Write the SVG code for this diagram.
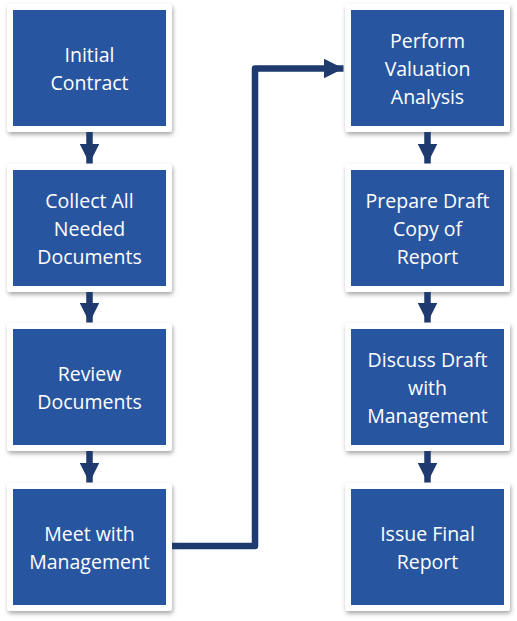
<svg xmlns="http://www.w3.org/2000/svg" width="517" height="621" viewBox="0 0 517 621">
<defs>
<filter id="sh" x="-10%" y="-10%" width="125%" height="125%">
<feDropShadow dx="1" dy="2.5" stdDeviation="2" flood-color="#000" flood-opacity="0.35"/>
</filter>
<marker id="ah" viewBox="0 0 10 10" refX="10" refY="5" markerWidth="3" markerHeight="3" markerUnits="strokeWidth" orient="auto">
<path d="M0,0 L10,5 L0,10 Z" fill="#1E3A6E"/>
</marker>
</defs>
<style>
.frame{fill:#fff;filter:url(#sh)}
.box{fill:#2855A0}
.t{font-family:"Open Sans","Liberation Sans",sans-serif;font-size:19.5px;fill:#fff;text-anchor:middle}
.c{stroke:#1E3A6E;stroke-width:6.5;fill:none;stroke-linejoin:round}
</style>
<rect width="517" height="621" fill="#fff"/>
<g id="n1"><rect class="frame" x="7" y="4" width="165" height="128" rx="3"/><rect class="box" x="13" y="10" width="153" height="116"/><text class="t" x="89.5" y="62">Initial</text><text class="t" x="89.5" y="90">Contract</text></g>
<g id="n2"><rect class="frame" x="7" y="164" width="165" height="128" rx="3"/><rect class="box" x="13" y="170" width="153" height="116"/><text class="t" x="89.5" y="208">Collect All</text><text class="t" x="89.5" y="236">Needed</text><text class="t" x="89.5" y="264">Documents</text></g>
<g id="n3"><rect class="frame" x="7" y="323" width="165" height="128" rx="3"/><rect class="box" x="13" y="329" width="153" height="116"/><text class="t" x="89.5" y="381">Review</text><text class="t" x="89.5" y="409">Documents</text></g>
<g id="n4"><rect class="frame" x="7" y="483" width="165" height="128" rx="3"/><rect class="box" x="13" y="489" width="153" height="116"/><text class="t" x="89.5" y="541">Meet with</text><text class="t" x="89.5" y="569">Management</text></g>
<g id="n5"><rect class="frame" x="345" y="4" width="165" height="128" rx="3"/><rect class="box" x="351" y="10" width="153" height="116"/><text class="t" x="427.5" y="48">Perform</text><text class="t" x="427.5" y="76">Valuation</text><text class="t" x="427.5" y="104">Analysis</text></g>
<g id="n6"><rect class="frame" x="345" y="164" width="165" height="128" rx="3"/><rect class="box" x="351" y="170" width="153" height="116"/><text class="t" x="427.5" y="208">Prepare Draft</text><text class="t" x="427.5" y="236">Copy of</text><text class="t" x="427.5" y="264">Report</text></g>
<g id="n7"><rect class="frame" x="345" y="323" width="165" height="128" rx="3"/><rect class="box" x="351" y="329" width="153" height="116"/><text class="t" x="427.5" y="367">Discuss Draft</text><text class="t" x="427.5" y="395">with</text><text class="t" x="427.5" y="423">Management</text></g>
<g id="n8"><rect class="frame" x="345" y="483" width="165" height="128" rx="3"/><rect class="box" x="351" y="489" width="153" height="116"/><text class="t" x="427.5" y="541">Issue Final</text><text class="t" x="427.5" y="569">Report</text></g>
<g id="connectors">
<path class="c" d="M89.5,132 V163.5" marker-end="url(#ah)"/>
<path class="c" d="M89.5,292 V322.5" marker-end="url(#ah)"/>
<path class="c" d="M89.5,451 V482.5" marker-end="url(#ah)"/>
<path class="c" d="M427.5,132 V163.5" marker-end="url(#ah)"/>
<path class="c" d="M427.5,292 V322.5" marker-end="url(#ah)"/>
<path class="c" d="M427.5,451 V482.5" marker-end="url(#ah)"/>
<path class="c" d="M172,546 H255 V68.5 H343.5" marker-end="url(#ah)"/>
</g>
</svg>
